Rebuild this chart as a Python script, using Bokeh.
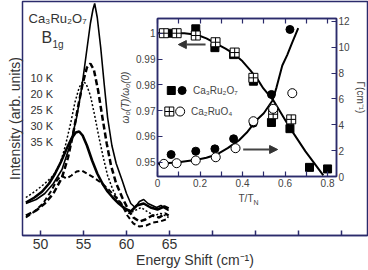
from bokeh.plotting import figure
from bokeh.models import (Range1d, LinearAxis, FixedTicker, Label, Arrow, NormalHead,
                          NumeralTickFormatter, Title)
from bokeh.embed import file_html
from bokeh.resources import INLINE
from bokeh.core.properties import value

FONT = "Liberation Sans"
NAVY = "#2b2b6b"
TXT = "#333333"

# ---------------- main panel data (Raman spectra) ----------------
temp_labels = ["10 K", "20 K", "25 K", "30 K", "35 K"]

shift_10K = [48.3, 49.5, 50.5, 51.5, 52.5, 53.5, 54.2, 54.8, 55.3, 55.8, 56.1, 56.3, 56.6, 57.0, 57.4,
             57.8, 58.3, 58.8, 59.5, 60.0, 60.5, 61.0, 61.5, 62.0, 62.5, 63.0, 63.5, 64.0, 64.5, 64.9]
int_10K = [32, 36, 42, 52, 66, 92, 118, 148, 180, 212, 226, 232, 218, 188, 152,
           118, 90, 72, 55, 42, 32, 28, 34, 36, 32, 30, 28, 30, 27, 25]

shift_20K = [48.3, 49.5, 50.5, 51.5, 52.5, 53.2, 53.8, 54.4, 54.9, 55.4, 55.8, 56.2, 56.7, 57.2, 57.7,
             58.2, 58.8, 59.5, 60.2, 60.8, 61.5, 62.2, 63.0, 63.8, 64.5, 64.9]
int_20K = [20, 25, 32, 42, 58, 78, 102, 130, 152, 168, 172, 166, 145, 118, 92,
           70, 52, 38, 26, 18, 14, 16, 20, 18, 22, 20]

shift_25K = [48.3, 49.5, 50.5, 51.5, 52.3, 52.9, 53.5, 54.0, 54.5, 54.9, 55.3, 55.8, 56.3, 56.8, 57.3,
             57.8, 58.4, 59.0, 59.7, 60.3, 61.0, 61.7, 62.4, 63.2, 64.0, 64.9]
int_25K = [38, 45, 52, 60, 72, 90, 112, 133, 148, 154, 152, 140, 120, 98, 78,
           60, 46, 36, 28, 22, 25, 28, 24, 20, 22, 18]

shift_30K = [48.3, 49.3, 50.2, 51.0, 51.7, 52.4, 53.0, 53.6, 54.1, 54.5, 54.9, 55.4, 56.0, 56.6, 57.2,
             57.8, 58.4, 59.1, 59.8, 60.5, 61.2, 62.0, 62.8, 63.6, 64.4, 64.9]
int_30K = [33, 38, 44, 52, 62, 74, 86, 97, 103, 104, 100, 90, 75, 62, 52,
           44, 38, 32, 27, 24, 30, 32, 28, 26, 29, 27]

shift_35K = [48.3, 49.3, 50.3, 51.2, 51.9, 52.4, 53.0, 53.6, 54.2, 54.8, 55.4, 56.2, 57.0, 57.8, 58.6,
             59.4, 60.1, 60.8, 61.5, 62.3, 63.1, 63.9, 64.6, 64.9]
int_35K = [18, 24, 32, 44, 55, 60, 57, 60, 64, 65, 62, 58, 53, 47, 40,
           32, 20, 12, 9, 10, 13, 14, 16, 15]

main_xticks = [50, 55, 60, 65, 70, 75, 80, 85]
main_xtick_labels = ["50", "55", "60", "65", "", "", "", ""]

# ---------------- inset data ----------------
T_327_sq = [0.064, 0.18, 0.27, 0.358, 0.451, 0.536, 0.623, 0.715, 0.80]
w_327 = [1.000, 1.0017, 0.9944, 0.9917, 0.9814, 0.9654, 0.963, 0.948, 0.9474]
T_327_ci = [0.064, 0.18, 0.27, 0.358, 0.451, 0.536, 0.623]
g_327 = [1.70, 1.96, 2.14, 2.92, 4.13, 6.35, 11.38]

T_214_sq = [0.03, 0.09, 0.18, 0.273, 0.363, 0.451, 0.544, 0.629]
w_214 = [1.0, 1.0, 0.9991, 0.9965, 0.9925, 0.9827, 0.9686, 0.9666]
T_214_ci = [0.03, 0.09, 0.18, 0.274, 0.367, 0.451, 0.544, 0.634]
g_214 = [0.98, 1.03, 1.24, 1.49, 2.19, 4.28, 5.24, 6.45]

T_wfit = [0.0, 0.06, 0.126, 0.185, 0.23, 0.278, 0.32, 0.358, 0.40, 0.436, 0.47, 0.498, 0.544, 0.619, 0.696, 0.78]
w_fit = [1.0, 1.0, 1.0, 0.9994, 0.998, 0.9959, 0.994, 0.9921, 0.9891, 0.9857, 0.9822, 0.9786, 0.9741, 0.9638, 0.9542, 0.9449]
T_gfit = [0.0, 0.09, 0.185, 0.23, 0.278, 0.33, 0.386, 0.42, 0.464, 0.50, 0.541, 0.56, 0.587, 0.61, 0.634, 0.662]
g_fit = [0.98, 1.08, 1.29, 1.45, 1.70, 2.2, 2.84, 3.4, 4.33, 4.9, 5.88, 6.9, 8.59, 9.4, 10.39, 11.48]

inset_T_ticks = [0, 0.2, 0.4, 0.6, 0.8]
inset_T_minor = [0.1, 0.3, 0.5, 0.7]
inset_w_ticks = [0.95, 0.96, 0.97, 0.98, 0.99, 1.0]
inset_g_ticks = [0, 2, 4, 6, 8, 10, 12]

# ---------------- main figure (placed at page origin) ----------------
W_MAIN, H_MAIN = 368, 270
ML, MR, MT, MB = 22, 1, 1, 35
fl, fr = ML, W_MAIN - MR
ft, fb = MT, H_MAIN - MB


def rx(px):  # page/reference pixel x -> energy shift
    return 50 + (px - 40) / 8.6


def ry(py):  # page/reference pixel y -> intensity
    return 235 - py


p = figure(width=W_MAIN, height=H_MAIN, x_range=Range1d(rx(fl), rx(fr)), y_range=Range1d(ry(fb), ry(ft)),
           output_backend="svg", toolbar_location=None, y_axis_location=None,
           min_border_left=ML, min_border_right=MR, min_border_top=MT, min_border_bottom=MB)
p.styles = {"position": "absolute", "left": "0px", "top": "0px"}
p.grid.visible = False
p.outline_line_color = NAVY
p.outline_line_width = 1.5
p.background_fill_color = "white"
p.border_fill_color = "white"

xa = p.xaxis[0]
xa.ticker = FixedTicker(ticks=main_xticks)
xa.major_label_overrides = {t: l for t, l in zip(main_xticks, main_xtick_labels)}
xa.major_tick_in = 5
xa.major_tick_out = 0
xa.minor_tick_in = 0
xa.minor_tick_out = 0
xa.axis_line_color = NAVY
xa.axis_line_width = 1.5
xa.major_tick_line_color = NAVY
xa.major_tick_line_width = 1.5
xa.major_label_text_font = FONT
xa.major_label_text_font_size = "14px"
xa.major_label_text_color = TXT
xa.major_label_standoff = 3
xa.axis_label = "Energy Shift (cm\u207b\u00b9)"
xa.axis_label_text_font = FONT
xa.axis_label_text_font_size = "14px"
xa.axis_label_text_font_style = "normal"
xa.axis_label_text_color = TXT
xa.axis_label_standoff = 0

p.add_layout(Title(text="Intensity (arb. units)", align="center", text_font=FONT,
                   text_font_size="14px", text_font_style="normal", text_color=TXT,
                   standoff=0, offset=0), "left")

p.line(shift_10K, int_10K, line_color="black", line_width=1.6)
p.line(shift_20K, int_20K, line_color="black", line_width=2.5, line_dash="6 3")
p.line(shift_25K, int_25K, line_color="black", line_width=1.5, line_dash="2 2")
p.line(shift_30K, int_30K, line_color="black", line_width=2.6)
p.line(shift_35K, int_35K, line_color="black", line_width=2.0, line_dash="5 3")

p.add_layout(Label(x=rx(28), y=ry(18), text="Ca\u2083Ru\u2082O\u2087", text_font=FONT,
                   text_font_size="13px", text_color=TXT, text_baseline="middle"))
p.add_layout(Label(x=rx(41), y=ry(37), text="B", text_font=FONT,
                   text_font_size="16px", text_color=TXT, text_baseline="middle"))
p.add_layout(Label(x=rx(52), y=ry(44), text="1g", text_font=FONT,
                   text_font_size="10px", text_color=TXT, text_baseline="middle"))
for i, lab in enumerate(temp_labels):
    p.add_layout(Label(x=rx(30), y=ry(77 + 16 * i), text=lab, text_font=FONT,
                       text_font_size="11px", text_color=TXT, text_baseline="middle"))

# inset x-axis title (drawn in the main panel, below the inset frame)
p.add_layout(Label(x=rx(238), y=ry(198), text="T/T", text_font=FONT, text_font_size="10px",
                   text_color="#444444", text_baseline="middle"))
p.add_layout(Label(x=rx(253), y=ry(202), text="N", text_font=FONT, text_font_size="7px",
                   text_color="#444444", text_baseline="middle"))

# ---------------- inset figure ----------------
IX0, IY0 = 111, 10          # page position of inset figure
IL, IR, IT, IB = 46, 30, 8, 30
IW, IH = 368 - IX0, IT + 158 + IB
W_LO, W_HI = 0.94446, 1.0057
G_HI = 12.23
T_HI = 0.842

ins = figure(width=IW, height=IH, x_range=Range1d(0, T_HI), y_range=Range1d(W_LO, W_HI),
             output_backend="svg", toolbar_location=None,
             min_border_left=IL, min_border_right=IR, min_border_top=IT, min_border_bottom=IB)
ins.styles = {"position": "absolute", "left": f"{IX0}px", "top": f"{IY0}px"}
ins.grid.visible = False
ins.border_fill_color = None
ins.background_fill_color = "white"
ins.outline_line_color = NAVY
ins.outline_line_width = 1.5
ins.extra_y_ranges = {"g": Range1d(0, G_HI)}


def style_axis(ax, size="10px"):
    ax.major_tick_in = 5
    ax.major_tick_out = 0
    ax.minor_tick_in = 5
    ax.minor_tick_out = 0
    ax.axis_line_color = NAVY
    ax.axis_line_width = 1.5
    ax.major_tick_line_color = NAVY
    ax.minor_tick_line_color = NAVY
    ax.major_tick_line_width = 1.2
    ax.minor_tick_line_width = 1.2
    ax.major_label_text_font = FONT
    ax.major_label_text_font_size = size
    ax.major_label_text_color = "#444444"
    ax.major_label_standoff = 2
    ax.axis_label_text_font = FONT
    ax.axis_label_text_font_size = "10px"
    ax.axis_label_text_font_style = "normal"
    ax.axis_label_text_color = "#444444"
    ax.axis_label_standoff = 2


bx = ins.xaxis[0]
bx.ticker = FixedTicker(ticks=inset_T_ticks, minor_ticks=inset_T_minor)
bx.formatter = NumeralTickFormatter(format="0.[0]")
style_axis(bx)

lx = ins.yaxis[0]
lx.ticker = FixedTicker(ticks=inset_w_ticks)
lx.formatter = NumeralTickFormatter(format="0.[00]")
style_axis(lx)
lx.axis_label = "\u03c9\u2080(T)/\u03c9\u2080(0)"
lx.axis_label_text_font_style = "italic"

tx = LinearAxis(ticker=FixedTicker(ticks=inset_T_ticks, minor_ticks=inset_T_minor))
style_axis(tx)
tx.major_label_text_alpha = 0
tx.major_label_text_font_size = "1px"
tx.major_label_standoff = 0
ins.add_layout(tx, "above")

rax = LinearAxis(y_range_name="g", ticker=FixedTicker(ticks=inset_g_ticks))
style_axis(rax)
rax.axis_label = "\u0393(cm\u207b\u00b9)"
ins.add_layout(rax, "right")

ins.line(T_wfit, w_fit, line_color="black", line_width=2)
ins.line(T_gfit, g_fit, y_range_name="g", line_color="black", line_width=2)
ins.scatter(T_327_sq, w_327, marker="square", size=8, color="black")
ins.scatter(T_327_ci, g_327, y_range_name="g", marker="circle", size=8, color="black")
ins.scatter(T_214_sq, w_214, marker="square_cross", size=9, fill_color="white", line_color="black", line_width=1)
ins.scatter(T_214_ci, g_214, y_range_name="g", marker="circle", size=9, fill_color="white", line_color="black", line_width=1)

ins.add_layout(Arrow(end=NormalHead(size=8, fill_color="#333333", line_color="#333333"),
                     x_start=0.226, y_start=0.9956, x_end=0.098, y_end=0.9956,
                     line_color="#444444", line_width=2))
ins.add_layout(Arrow(end=NormalHead(size=8, fill_color="#333333", line_color="#333333"),
                     x_start=0.403, y_start=2.09, x_end=0.565, y_end=2.09, y_range_name="g",
                     line_color="#444444", line_width=2))


def it(px):  # reference-pixel x -> T/TN
    return (px - 157) / 215.9


def iw(py):  # reference-pixel y -> omega ratio
    return 1 - (py - 32.7) / 2580


# legend
ins.scatter([it(171)], [iw(90)], marker="square", size=8, color="black")
ins.scatter([it(182)], [iw(90)], marker="circle", size=8, color="black")
ins.scatter([it(169)], [iw(111)], marker="square_cross", size=9, fill_color="white", line_color="black")
ins.scatter([it(180)], [iw(111)], marker="circle", size=9, fill_color="white", line_color="black")
ins.text(x=[it(193), it(191)], y=[iw(90), iw(111)], text=["Ca\u2083Ru\u2082O\u2087", "Ca\u2082RuO\u2084"],
         text_font=value(FONT), text_font_size="10px", text_color="#444444", text_baseline="middle")

open("out.html", "w").write(file_html([p, ins], INLINE))
